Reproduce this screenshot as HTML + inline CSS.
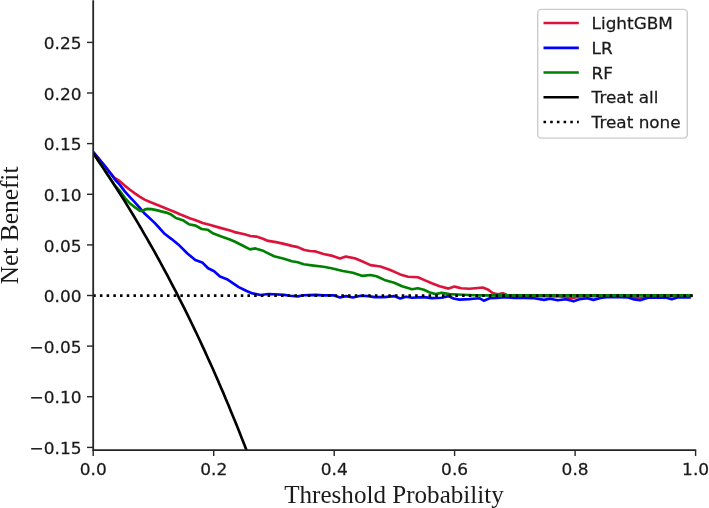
<!DOCTYPE html>
<html><head><meta charset="utf-8"><title>Decision curve</title>
<style>
html,body{margin:0;padding:0;background:#fff;}
svg{display:block;will-change:transform}
.tk{font-family:"DejaVu Sans","Liberation Sans",sans-serif;font-size:16.5px;fill:#1a1a1a;stroke:#1a1a1a;stroke-width:0.25px}
.lb{font-family:"Liberation Serif","Times New Roman",serif;font-size:25.1px;fill:#1a1a1a}
.cv{fill:none;stroke-width:2.65;stroke-linejoin:round;stroke-linecap:butt}
.ax{stroke:#262626;stroke-width:1.8;fill:none;stroke-linecap:square}
.t{stroke:#262626;stroke-width:1.4;fill:none}
</style></head><body>
<svg width="709" height="508" viewBox="0 0 709 508">
<rect width="709" height="508" fill="#fff"/>
<defs><clipPath id="c"><rect x="93.2" y="0" width="603" height="450.1"/></clipPath></defs>
<g clip-path="url(#c)">
<path class="cv" stroke="#dc143c" d="M93.3,152.2 L104.7,165.9 L114.6,178.0 L119.5,181.0 L124.7,185.6 L129.6,189.5 L134.5,193.1 L139.6,196.6 L144.6,199.6 L149.5,201.8 L154.4,203.8 L159.4,205.8 L164.3,207.7 L169.2,209.7 L174.2,211.7 L179.9,214.2 L189.7,218.2 L195.7,220.2 L202.6,223.0 L209.5,224.8 L219.4,227.6 L229.2,230.3 L234.6,232.1 L244.5,234.2 L250.4,236.0 L256.3,236.6 L262.3,238.6 L268.2,240.9 L276.1,242.1 L284.0,243.9 L291.9,245.9 L297.8,247.1 L303.7,249.8 L309.7,251.0 L315.6,251.4 L323.5,254.0 L331.4,255.6 L339.9,258.6 L345.9,256.6 L354.7,258.2 L362.6,261.5 L370.5,265.1 L380.4,266.5 L390.3,270.0 L400.2,274.4 L408.1,276.7 L417.9,277.3 L423.9,279.9 L431.8,283.3 L439.7,286.2 L448.5,288.6 L454.5,286.6 L461.4,288.2 L469.3,288.8 L475.0,288.2 L482.8,287.5 L487.7,289.4 L492.6,293.0 L497.6,294.3 L502.8,293.3 L507.0,295.0 L512.0,296.0 L540.0,296.2 L560.0,296.5 L571.6,298.3 L580.0,296.5 L600.0,296.0 L630.0,296.5 L640.0,298.3 L650.0,296.5 L692.4,296.0"/>
<path class="cv" stroke="#0000ff" d="M93.3,152.0 L104.7,165.8 L115.4,180.0 L119.9,184.9 L124.8,191.4 L129.7,196.8 L134.7,202.2 L139.6,207.6 L144.6,213.6 L149.5,218.0 L154.4,222.6 L159.4,228.0 L164.6,233.8 L171.6,239.1 L179.5,245.6 L187.4,253.5 L195.3,260.0 L202.2,262.4 L208.1,268.3 L214.1,271.3 L220.0,276.6 L226.9,279.2 L232.8,283.1 L238.7,287.1 L246.6,291.0 L252.6,293.4 L260.5,295.0 L268.4,294.0 L274.1,294.3 L284.0,294.9 L289.9,295.8 L297.8,296.4 L303.7,295.2 L315.6,294.9 L323.5,295.4 L333.4,295.2 L339.9,297.5 L345.9,296.1 L352.8,297.5 L360.7,295.7 L368.6,296.1 L374.5,297.1 L384.4,297.1 L394.2,296.1 L400.2,298.5 L406.1,296.7 L412.0,297.7 L423.9,297.1 L431.8,298.1 L441.6,297.7 L448.5,296.1 L453.5,298.5 L459.4,299.6 L469.3,299.1 L472.9,298.7 L479.8,298.3 L483.8,300.7 L489.7,298.3 L496.6,297.9 L504.5,297.3 L514.4,297.9 L524.2,297.9 L534.1,298.3 L544.0,299.9 L549.9,298.7 L557.8,300.3 L565.7,299.3 L573.6,301.3 L579.5,299.3 L587.4,298.3 L593.4,299.9 L600.6,298.0 L608.5,297.0 L628.2,297.5 L634.2,299.4 L640.1,300.2 L648.0,297.8 L665.8,297.4 L671.7,299.2 L677.6,297.4 L690.8,297.4"/>
<path class="cv" stroke="#008000" d="M93.2,153.3 L97.5,159.6 L101.9,166.0 L106.2,172.5 L110.5,179.1 L114.9,185.8 L119.9,190.9 L124.8,197.8 L129.7,203.2 L134.7,207.1 L139.6,210.6 L142.1,211.1 L144.6,209.6 L147.5,208.9 L151.5,209.1 L156.4,210.1 L161.3,211.4 L166.3,212.6 L171.2,214.6 L175.9,218.0 L182.8,220.2 L188.8,224.2 L195.7,225.6 L201.6,229.0 L207.5,229.7 L213.4,233.6 L221.3,236.5 L229.2,239.2 L234.6,241.5 L242.5,245.5 L250.0,249.4 L255.4,248.4 L262.3,250.4 L268.2,253.4 L274.1,256.3 L284.0,258.7 L291.9,261.3 L297.8,262.3 L303.7,264.2 L313.6,265.6 L323.5,266.8 L331.4,268.2 L342.9,271.0 L352.8,272.8 L362.6,275.9 L370.5,275.0 L376.5,276.3 L384.4,279.9 L394.2,282.7 L402.1,286.2 L412.0,289.2 L417.9,288.2 L423.9,289.8 L429.8,292.5 L435.7,294.1 L441.6,292.7 L449.5,294.1 L457.4,294.5 L475.0,295.3 L692.4,295.4"/>
<path class="cv" stroke="#000" d="M93.2,153.3 L95.9,157.1 L98.5,161.0 L101.2,164.9 L103.8,168.9 L106.5,172.9 L109.1,176.9 L111.8,181.0 L114.4,185.1 L117.1,189.2 L119.7,193.4 L122.4,197.6 L125.1,201.8 L127.7,206.1 L130.4,210.5 L133.0,214.8 L135.7,219.3 L138.3,223.7 L141.0,228.2 L143.6,232.8 L146.3,237.4 L148.9,242.0 L151.6,246.7 L154.3,251.4 L156.9,256.2 L159.6,261.0 L162.2,265.9 L164.9,270.8 L167.5,275.7 L170.2,280.8 L172.8,285.8 L175.5,290.9 L178.1,296.1 L180.8,301.3 L183.5,306.6 L186.1,311.9 L188.8,317.3 L191.4,322.8 L194.1,328.3 L196.7,333.8 L199.4,339.5 L202.0,345.1 L204.7,350.9 L207.3,356.7 L210.0,362.6 L212.7,368.5 L215.3,374.5 L218.0,380.6 L220.6,386.7 L223.3,392.9 L225.9,399.2 L228.6,405.5 L231.2,411.9 L233.9,418.4 L236.6,425.0 L239.2,431.6 L241.9,438.4 L244.5,445.1 L247.2,452.0 L249.8,459.0"/>
<path class="cv" stroke="#000" stroke-dasharray="2.55 4.157" d="M93.2,295.6 L692.8,295.6"/>
</g>
<path class="ax" d="M93.2,1.2 V450.1 H695.3"/>
<path class="t" d="M87.0,42.4 H93.2"/><text class="tk" transform="translate(81.5,49.0) scale(1.03,1)" text-anchor="end">0.25</text>
<path class="t" d="M87.0,93.0 H93.2"/><text class="tk" transform="translate(81.5,99.6) scale(1.03,1)" text-anchor="end">0.20</text>
<path class="t" d="M87.0,143.6 H93.2"/><text class="tk" transform="translate(81.5,150.2) scale(1.03,1)" text-anchor="end">0.15</text>
<path class="t" d="M87.0,194.3 H93.2"/><text class="tk" transform="translate(81.5,200.9) scale(1.03,1)" text-anchor="end">0.10</text>
<path class="t" d="M87.0,244.9 H93.2"/><text class="tk" transform="translate(81.5,251.5) scale(1.03,1)" text-anchor="end">0.05</text>
<path class="t" d="M87.0,295.5 H93.2"/><text class="tk" transform="translate(81.5,302.1) scale(1.03,1)" text-anchor="end">0.00</text>
<path class="t" d="M87.0,346.1 H93.2"/><text class="tk" transform="translate(81.5,352.7) scale(1.03,1)" text-anchor="end">−0.05</text>
<path class="t" d="M87.0,396.7 H93.2"/><text class="tk" transform="translate(81.5,403.3) scale(1.03,1)" text-anchor="end">−0.10</text>
<path class="t" d="M87.0,447.4 H93.2"/><text class="tk" transform="translate(81.5,454.0) scale(1.03,1)" text-anchor="end">−0.15</text>
<path class="t" d="M93.2,450.1 V456.0"/><text class="tk" transform="translate(93.2,475.2) scale(1.03,1)" text-anchor="middle">0.0</text>
<path class="t" d="M213.7,450.1 V456.0"/><text class="tk" transform="translate(213.7,475.2) scale(1.03,1)" text-anchor="middle">0.2</text>
<path class="t" d="M334.2,450.1 V456.0"/><text class="tk" transform="translate(334.2,475.2) scale(1.03,1)" text-anchor="middle">0.4</text>
<path class="t" d="M454.6,450.1 V456.0"/><text class="tk" transform="translate(454.6,475.2) scale(1.03,1)" text-anchor="middle">0.6</text>
<path class="t" d="M575.1,450.1 V456.0"/><text class="tk" transform="translate(575.1,475.2) scale(1.03,1)" text-anchor="middle">0.8</text>
<path class="t" d="M695.6,450.1 V456.0"/><text class="tk" transform="translate(695.6,475.2) scale(1.03,1)" text-anchor="middle">1.0</text>
<text class="lb" x="394" y="502.5" text-anchor="middle">Threshold Probability</text>
<text class="lb" style="font-size:25.4px" transform="translate(18.3,225.4) rotate(-90)" text-anchor="middle">Net Benefit</text>
<rect x="537.7" y="9.4" width="149.6" height="128.7" rx="3.5" fill="#fff" fill-opacity="0.8" stroke="#cccccc" stroke-width="1.4"/>
<path class="cv" stroke="#dc143c" d="M543.5,23.0 H578.8"/><text class="tk" transform="translate(591.6,29.1) scale(1.022,1)">LightGBM</text>
<path class="cv" stroke="#0000ff" d="M543.5,47.8 H578.8"/><text class="tk" transform="translate(591.6,53.9) scale(1.022,1)">LR</text>
<path class="cv" stroke="#008000" d="M543.5,72.5 H578.8"/><text class="tk" transform="translate(591.6,78.6) scale(1.022,1)">RF</text>
<path class="cv" stroke="#000" d="M543.5,97.2 H578.8"/><text class="tk" transform="translate(591.6,103.3) scale(1.022,1)">Treat all</text>
<path class="cv" stroke="#000" stroke-dasharray="2.55 4.15" d="M543.5,122.0 H578.8"/><text class="tk" transform="translate(591.6,128.1) scale(1.022,1)">Treat none</text>
</svg></body></html>
